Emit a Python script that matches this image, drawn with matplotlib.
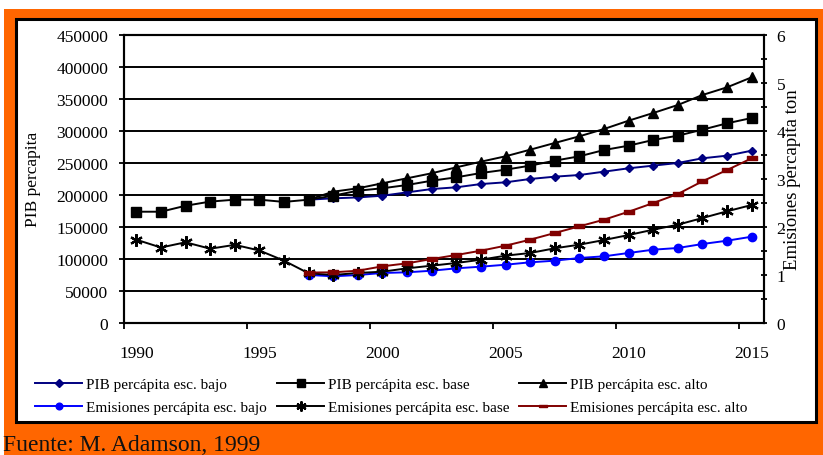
import numpy as np
import matplotlib
matplotlib.use("Agg")
import matplotlib.pyplot as plt
from matplotlib.patches import Rectangle
from matplotlib.ticker import MultipleLocator, FixedLocator, NullFormatter, FixedFormatter

plt.rcParams['font.family'] = ['Liberation Serif', 'DejaVu Serif']

years = list(range(1990, 2016))
nan = np.nan

pib_base = [173700, 173700, 183000, 189500, 192500, 192500, 189000, 192500, 198700, 206500,
            210300, 215400, 222100, 227400, 234100, 239300, 245600, 253400, 260200, 270000,
            276800, 285700, 292400, 301800, 311700, 320000]
pib_alto = [nan]*7 + [192500, 205000, 210200, 218100, 225900, 233700, 243000, 251800, 260200,
            270500, 281000, 291400, 302800, 315800, 327800, 340300, 355900, 367900, 383500]
pib_bajo = [nan]*7 + [192500, 194600, 196000, 198700, 203900, 209100, 211800, 216900, 219600,
            224800, 228400, 231000, 236200, 241500, 245600, 249800, 257100, 261200, 269000]

em_base = [1.734, 1.571, 1.68, 1.546, 1.627, 1.509, 1.297, 1.034, 0.999, 1.041, 1.068, 1.138,
           1.193, 1.249, 1.317, 1.401, 1.457, 1.555, 1.63, 1.727, 1.831, 1.942, 2.046, 2.185,
           2.325, 2.456]
em_alto = [nan]*7 + [1.05, 1.055, 1.088, 1.18, 1.242, 1.332, 1.415, 1.505, 1.609, 1.734, 1.873,
           2.012, 2.15, 2.316, 2.497, 2.685, 2.95, 3.184, 3.428]
em_bajo = [nan]*7 + [1.0, 0.972, 0.999, 1.041, 1.055, 1.088, 1.138, 1.172, 1.213, 1.263, 1.297,
           1.353, 1.388, 1.457, 1.526, 1.561, 1.644, 1.713, 1.796]

labels = ["PIB percápita esc. bajo", "PIB percápita esc. base", "PIB percápita esc. alto",
          "Emisiones percápita esc. bajo", "Emisiones percápita esc. base", "Emisiones percápita esc. alto"]
xlabels_years = [1990, 1995, 2000, 2005, 2010, 2015]

W, H = 823, 456
fig = plt.figure(figsize=(W/100, H/100), dpi=100, facecolor='white')

def fx(px): return px / W
def fy(py): return 1 - py / H

# orange background and white panel
fig.patches.append(Rectangle((fx(4), 0), 1 - fx(4), fy(10), transform=fig.transFigure,
                             facecolor='#FF6600', edgecolor='none', zorder=-20))
fig.patches.append(Rectangle((fx(16), fy(423)), fx(816) - fx(16), fy(20) - fy(423),
                             transform=fig.transFigure, facecolor='white', edgecolor='black',
                             linewidth=2.2, zorder=-10))

ax_l, ax_r, ax_t, ax_b = 124, 764, 35.7, 324
ax = fig.add_axes([fx(ax_l), fy(ax_b), fx(ax_r) - fx(ax_l), fy(ax_t) - fy(ax_b)])
ax2 = ax.twinx()

x = np.arange(len(years))
lw = 1.4
star = (6, 2, 0)
dash = [(-1, -0.35), (1, -0.35), (1, 0.35), (-1, 0.35), (-1, -0.35)]

h1, = ax.plot(x, pib_bajo, color='#000080', lw=lw, marker='D', ms=4.5, label=labels[0])
h2, = ax.plot(x, pib_base, color='black', lw=lw, marker='s', ms=7, label=labels[1])
h3, = ax.plot(x, pib_alto, color='black', lw=lw, marker='^', ms=7.5, label=labels[2])
h4, = ax2.plot(x, em_bajo, color='#0000FF', lw=lw, marker='o', ms=6, label=labels[3])
h5, = ax2.plot(x, em_base, color='black', lw=lw, marker=star, ms=9, mew=1.6, label=labels[4])
h6, = ax2.plot(x, em_alto, color='#800000', lw=lw, marker=dash, ms=7, label=labels[5])

ax.set_xlim(-0.5, len(years) - 0.5)
ax.set_ylim(0, 450000)
ax2.set_ylim(0, 6)

# x axis: tick marks at category boundaries, labels at category centres
ax.xaxis.set_major_locator(FixedLocator([-0.5, 4.5, 9.5, 14.5, 19.5, 24.5]))
ax.xaxis.set_major_formatter(NullFormatter())
ax.xaxis.set_minor_locator(FixedLocator([years.index(y) for y in xlabels_years]))
ax.xaxis.set_minor_formatter(FixedFormatter([str(y) for y in xlabels_years]))
ax.tick_params(axis='x', which='major', direction='out', length=4.5, width=1.3)
ax.tick_params(axis='x', which='minor', length=0, pad=15.5, labelsize=12.5)

ax.yaxis.set_major_locator(MultipleLocator(50000))
ax.tick_params(axis='y', direction='out', length=3.5, width=1.3, pad=8, labelsize=12.5)
ax.grid(axis='y', color='black', linewidth=1.4)
ax.set_axisbelow(True)

ax2.yaxis.set_major_locator(MultipleLocator(1))
ax2.yaxis.set_minor_locator(MultipleLocator(0.5))
ax2.tick_params(axis='y', which='both', direction='inout', length=5, width=1.3, pad=6.5, labelsize=12.5)

for a in (ax, ax2):
    for s in a.spines.values():
        s.set_linewidth(1.5)
        s.set_color('black')

ax.set_ylabel('PIB percapita', fontsize=12.5, va='center')
ax.yaxis.set_label_coords((33 - ax_l) / (ax_r - ax_l), 0.5)
ax2.set_ylabel('Emisiones percapita ton', fontsize=13.5, rotation=90, va='center')
ax2.yaxis.set_label_coords((793 - ax_l) / (ax_r - ax_l), 0.5)

# legend: three columns of two entries
cols = [([h1, h4], 35), ([h2, h5], 277), ([h3, h6], 519)]
for hs, px in cols:
    fig.legend(handles=hs, labels=[h.get_label() for h in hs], loc='center left',
               bbox_to_anchor=(fx(px), fy(397)), frameon=False, fontsize=11,
               borderpad=0, borderaxespad=0, handlelength=3.1, handletextpad=0.25,
               labelspacing=0.62, markerscale=0.8)

fig.text(fx(3), fy(451), 'Fuente: M. Adamson, 1999', fontsize=17, va='baseline', ha='left',
         color='#111111')

fig.savefig('out.png', dpi=100)
